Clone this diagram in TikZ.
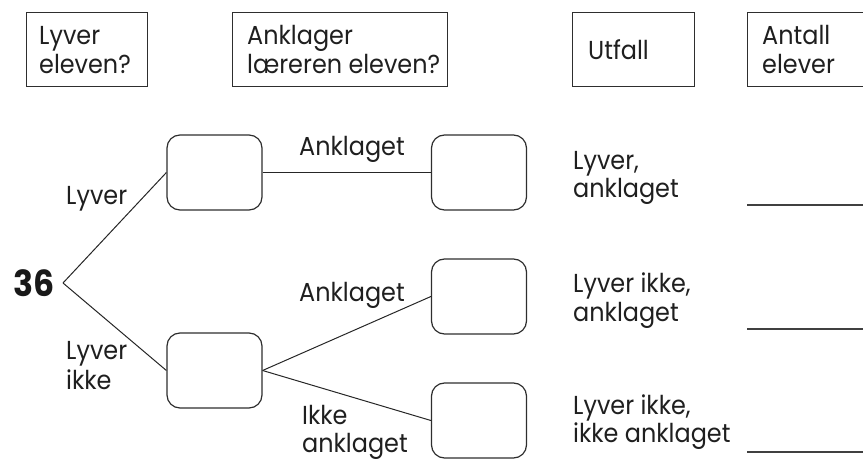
\documentclass[tikz,border=0pt]{standalone}
\usepackage{fontspec}
\setmainfont[FakeStretch=0.92]{Poppins}
\begin{document}
\begin{tikzpicture}[x=1pt,y=-1pt,
  ink/.style={draw=black!82, line width=1.2pt},
  hbox/.style={ink, inner sep=0pt, anchor=north west},
  rbox/.style={ink, rounded corners=13pt, minimum width=95pt, minimum height=75pt, inner sep=0pt},
  lbl/.style={anchor=base west, inner sep=0pt, text=black!88, font=\fontsize{26}{29}\selectfont},
  conn/.style={draw=black!85, line width=1pt},
  blank/.style={draw=black!75, line width=2pt}]
\clip (0,0) rectangle (863,462);
% header boxes
\node[hbox, minimum width=121pt, minimum height=74pt] (h1) at (26,12) {};
\node[hbox, minimum width=215pt, minimum height=74pt] (h2) at (232,12) {};
\node[hbox, minimum width=122pt, minimum height=74pt] (h3) at (572,12) {};
\node[hbox, minimum width=140pt, minimum height=74pt] (h4) at (747,12) {};
\node[lbl] (h1a) at (39,45) {Lyver};
\node[lbl] (h1b) at (39,74) {eleven?};
\node[lbl] (h2a) at (247,45) {Anklager};
\node[lbl] (h2b) at (247,74) {læreren eleven?};
\node[lbl] (h3a) at (588,60) {Utfall};
\node[lbl] (h4a) at (762,45) {Antall};
\node[lbl] (h4b) at (762,74) {elever};
% tree
\node[anchor=base west, inner sep=0pt, text=black!90, font=\fontsize{36}{40}\bfseries\selectfont] (n36) at (13,297) {36};
\coordinate (apex) at (63,283);
\node[rbox] (A) at (214.5,172.5) {};
\node[rbox] (B) at (214.5,370.5) {};
\node[rbox] (C) at (479,172.5) {};
\node[rbox] (D) at (479,296.5) {};
\node[rbox] (E) at (479,420.5) {};
\draw[conn] (apex) -- (A.west);
\draw[conn] (apex) -- (B.west);
\draw[conn] (A.east) -- (C.west);
\draw[conn] (B.east) -- (D.west);
\draw[conn] (B.east) -- (E.west);
\node[lbl] (l1) at (66,205) {Lyver};
\node[lbl] (l2a) at (66,360) {Lyver};
\node[lbl] (l2b) at (66,390) {ikke};
\node[lbl] (l3) at (299,156) {Anklaget};
\node[lbl] (l4) at (299,302) {Anklaget};
\node[lbl] (l5a) at (302,425) {Ikke};
\node[lbl] (l5b) at (302,453) {anklaget};
% outcomes
\node[lbl] (o1a) at (573,170) {Lyver,};
\node[lbl] (o1b) at (573,198) {anklaget};
\node[lbl] (o2a) at (573,293) {Lyver ikke,};
\node[lbl] (o2b) at (573,322) {anklaget};
\node[lbl] (o3a) at (573,415) {Lyver ikke,};
\node[lbl] (o3b) at (573,443) {ikke anklaget};
% answer lines
\draw[blank] (747,205) -- (863,205);
\draw[blank] (747,329) -- (863,329);
\draw[blank] (747,452) -- (863,452);
\end{tikzpicture}
\end{document}
